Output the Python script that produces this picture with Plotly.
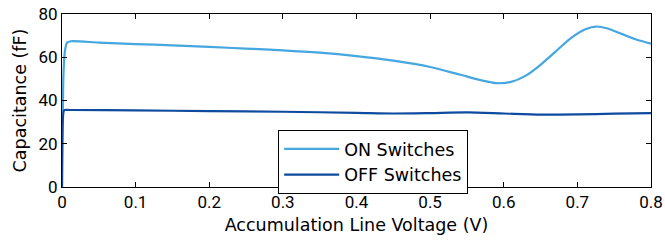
import plotly.graph_objects as go

on_x = [0, 0.001, 0.002, 0.004, 0.007, 0.012, 0.05, 0.1, 0.15, 0.2, 0.25, 0.3, 0.35, 0.4, 0.45, 0.5,
        0.54, 0.57, 0.59, 0.61, 0.63, 0.65, 0.67, 0.69, 0.71, 0.725, 0.74, 0.76, 0.78, 0.8]
on_y = [0, 30, 52, 63, 66.8, 67.4, 66.8, 66.1, 65.5, 64.8, 64.0, 63.2, 62.1, 60.5, 58.4, 55.5,
        52.0, 49.3, 48.0, 48.6, 51.5, 56.5, 62.5, 68.5, 72.8, 74.2, 73.4, 70.8, 68.2, 66.3]

off_x = [0, 0.001, 0.003, 0.01, 0.1, 0.2, 0.3, 0.4, 0.45, 0.5, 0.55, 0.6, 0.65, 0.7, 0.75, 0.8]
off_y = [0, 30, 35.5, 35.6, 35.4, 35.1, 34.8, 34.3, 34.0, 34.2, 34.5, 34.0, 33.5, 33.6, 33.9, 34.2]

TITLE_FONT = dict(family="DejaVu Sans, sans-serif", size=17.5, color="black")

fig = go.Figure()
fig.add_trace(go.Scatter(x=on_x, y=on_y, mode="lines", name="ON Switches",
                         line=dict(color="#45A6E0", width=2.2, shape="spline", smoothing=0.7)))
fig.add_trace(go.Scatter(x=off_x, y=off_y, mode="lines", name="OFF Switches",
                         line=dict(color="#0E4A9E", width=2.2, shape="spline", smoothing=0.7)))

axis_common = dict(showgrid=False, zeroline=False, showline=True, linecolor="black", linewidth=1,
                   mirror="ticks", ticks="inside", ticklen=5, tickcolor="black", automargin=False,
                   ticklabeloverflow="allow",
                   tickfont=dict(family="Roboto, sans-serif", size=17, color="black"))
fig.update_xaxes(range=[0, 0.8], dtick=0.1, tick0=0,
                 title=dict(text="Accumulation Line Voltage (V)", font=TITLE_FONT, standoff=7),
                 **axis_common)
fig.update_yaxes(range=[0, 80], dtick=20, tick0=0,
                 title=dict(text="Capacitance (fF)", font=TITLE_FONT, standoff=7),
                 **axis_common)

fig.update_layout(
    width=665, height=240,
    margin=dict(l=62, r=14, t=14, b=53, autoexpand=False),
    paper_bgcolor="white", plot_bgcolor="white",
    font=dict(family="Roboto, sans-serif", size=17, color="black"),
    legend=dict(x=0.367, y=0.33, xanchor="left", yanchor="top",
                bordercolor="black", borderwidth=1, bgcolor="white",
                font=TITLE_FONT, itemwidth=55, tracegroupgap=0),
    showlegend=True,
)

fig.write_html("out.html",
               config={"displayModeBar": False, "staticPlot": True},
               post_script="document.body.style.margin='0';document.body.style.overflow='hidden';")
